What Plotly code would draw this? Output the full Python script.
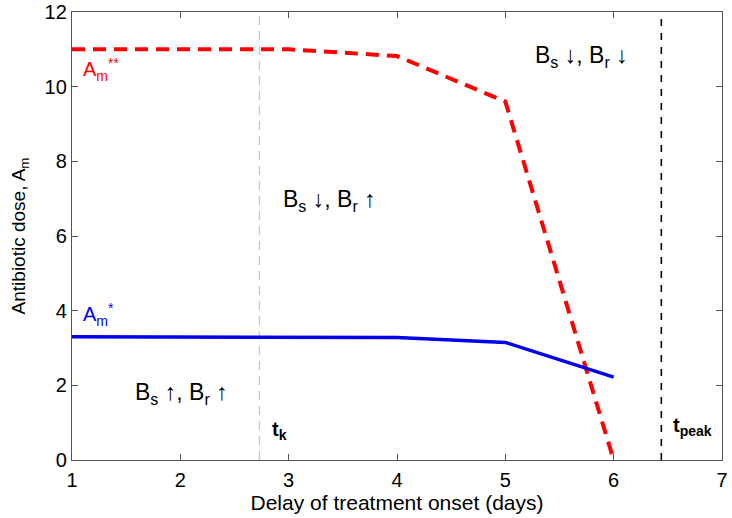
import plotly.graph_objects as go

days = [1, 2, 3, 4, 5, 6]
a_double_star = [11.0, 11.0, 11.0, 10.82, 9.6, 0.0]
a_star = [3.3, 3.3, 3.3, 3.28, 3.15, 2.22]
t_k = 2.73
t_peak = 6.44
x_ticks = [1, 2, 3, 4, 5, 6, 7]
y_ticks = [0, 2, 4, 6, 8, 10, 12]

FONT = "Liberation Sans, Arial, Helvetica, DejaVu Sans, sans-serif"

fig = go.Figure()
fig.add_trace(go.Scatter(x=[t_k, t_k], y=[0, 12], mode="lines",
                         line=dict(color="#c8c8c8", width=1.3, dash="9px,6px"),
                         showlegend=False, hoverinfo="skip"))
fig.add_trace(go.Scatter(x=[t_peak, t_peak], y=[0, 12], mode="lines",
                         line=dict(color="black", width=1.6, dash="7px,7px"),
                         showlegend=False, hoverinfo="skip"))
fig.add_trace(go.Scatter(x=days, y=a_double_star, mode="lines",
                         line=dict(color="#ff0000", width=4, dash="13px,8px"),
                         showlegend=False))
fig.add_trace(go.Scatter(x=days, y=a_star, mode="lines",
                         line=dict(color="#0000ee", width=3.5),
                         showlegend=False))

ann = [
    dict(x=1.08, y=10.45, text="A<sub>m</sub><sup>**</sup>", color="#ff0000", size=20, xanchor="left"),
    dict(x=1.08, y=3.9, text="A<sub>m</sub><sup>*</sup>", color="#0000ee", size=20, xanchor="left"),
    dict(x=3.38, y=6.95, text="B<sub>s</sub> ↓, B<sub>r</sub> ↑", color="black", size=23, xanchor="center"),
    dict(x=5.70, y=10.8, text="B<sub>s</sub> ↓, B<sub>r</sub> ↓", color="black", size=23, xanchor="center"),
    dict(x=2.01, y=1.78, text="B<sub>s</sub> ↑, B<sub>r</sub> ↑", color="black", size=23, xanchor="center"),
    dict(x=2.83, y=0.8, text="<b>t<sub>k</sub></b>", color="black", size=20, xanchor="left"),
    dict(x=6.53, y=0.9, text="<b>t<sub>peak</sub></b>", color="black", size=20, xanchor="left"),
]
for a in ann:
    fig.add_annotation(x=a["x"], y=a["y"], text=a["text"], showarrow=False,
                       xanchor=a["xanchor"], yanchor="middle",
                       font=dict(family=FONT, size=a["size"], color=a["color"]))

axis_common = dict(showgrid=False, zeroline=False, showline=True, linecolor="#555555",
                   linewidth=1.3, mirror="ticks", ticks="inside", ticklen=6,
                   tickcolor="#555555", automargin=False,
                   tickfont=dict(family=FONT, size=20, color="black"))
fig.update_xaxes(range=[1, 7], tickvals=x_ticks, ticklabelstandoff=2,
                 title=dict(text="Delay of treatment onset (days)",
                            font=dict(family=FONT, size=21, color="black"), standoff=4),
                 **axis_common)
fig.update_yaxes(range=[0, 12], tickvals=y_ticks,
                 title=dict(text="Antibiotic dose, A<sub>m</sub>",
                            font=dict(family=FONT, size=19, color="black"), standoff=13),
                 **axis_common)

fig.update_layout(width=732, height=518, margin=dict(l=72, r=10, t=12, b=58, autoexpand=False),
                  plot_bgcolor="white", paper_bgcolor="white")
fig.write_html("out.html", config={"displayModeBar": False},
               post_script="document.body.style.margin='0';document.body.style.overflow='hidden';")
